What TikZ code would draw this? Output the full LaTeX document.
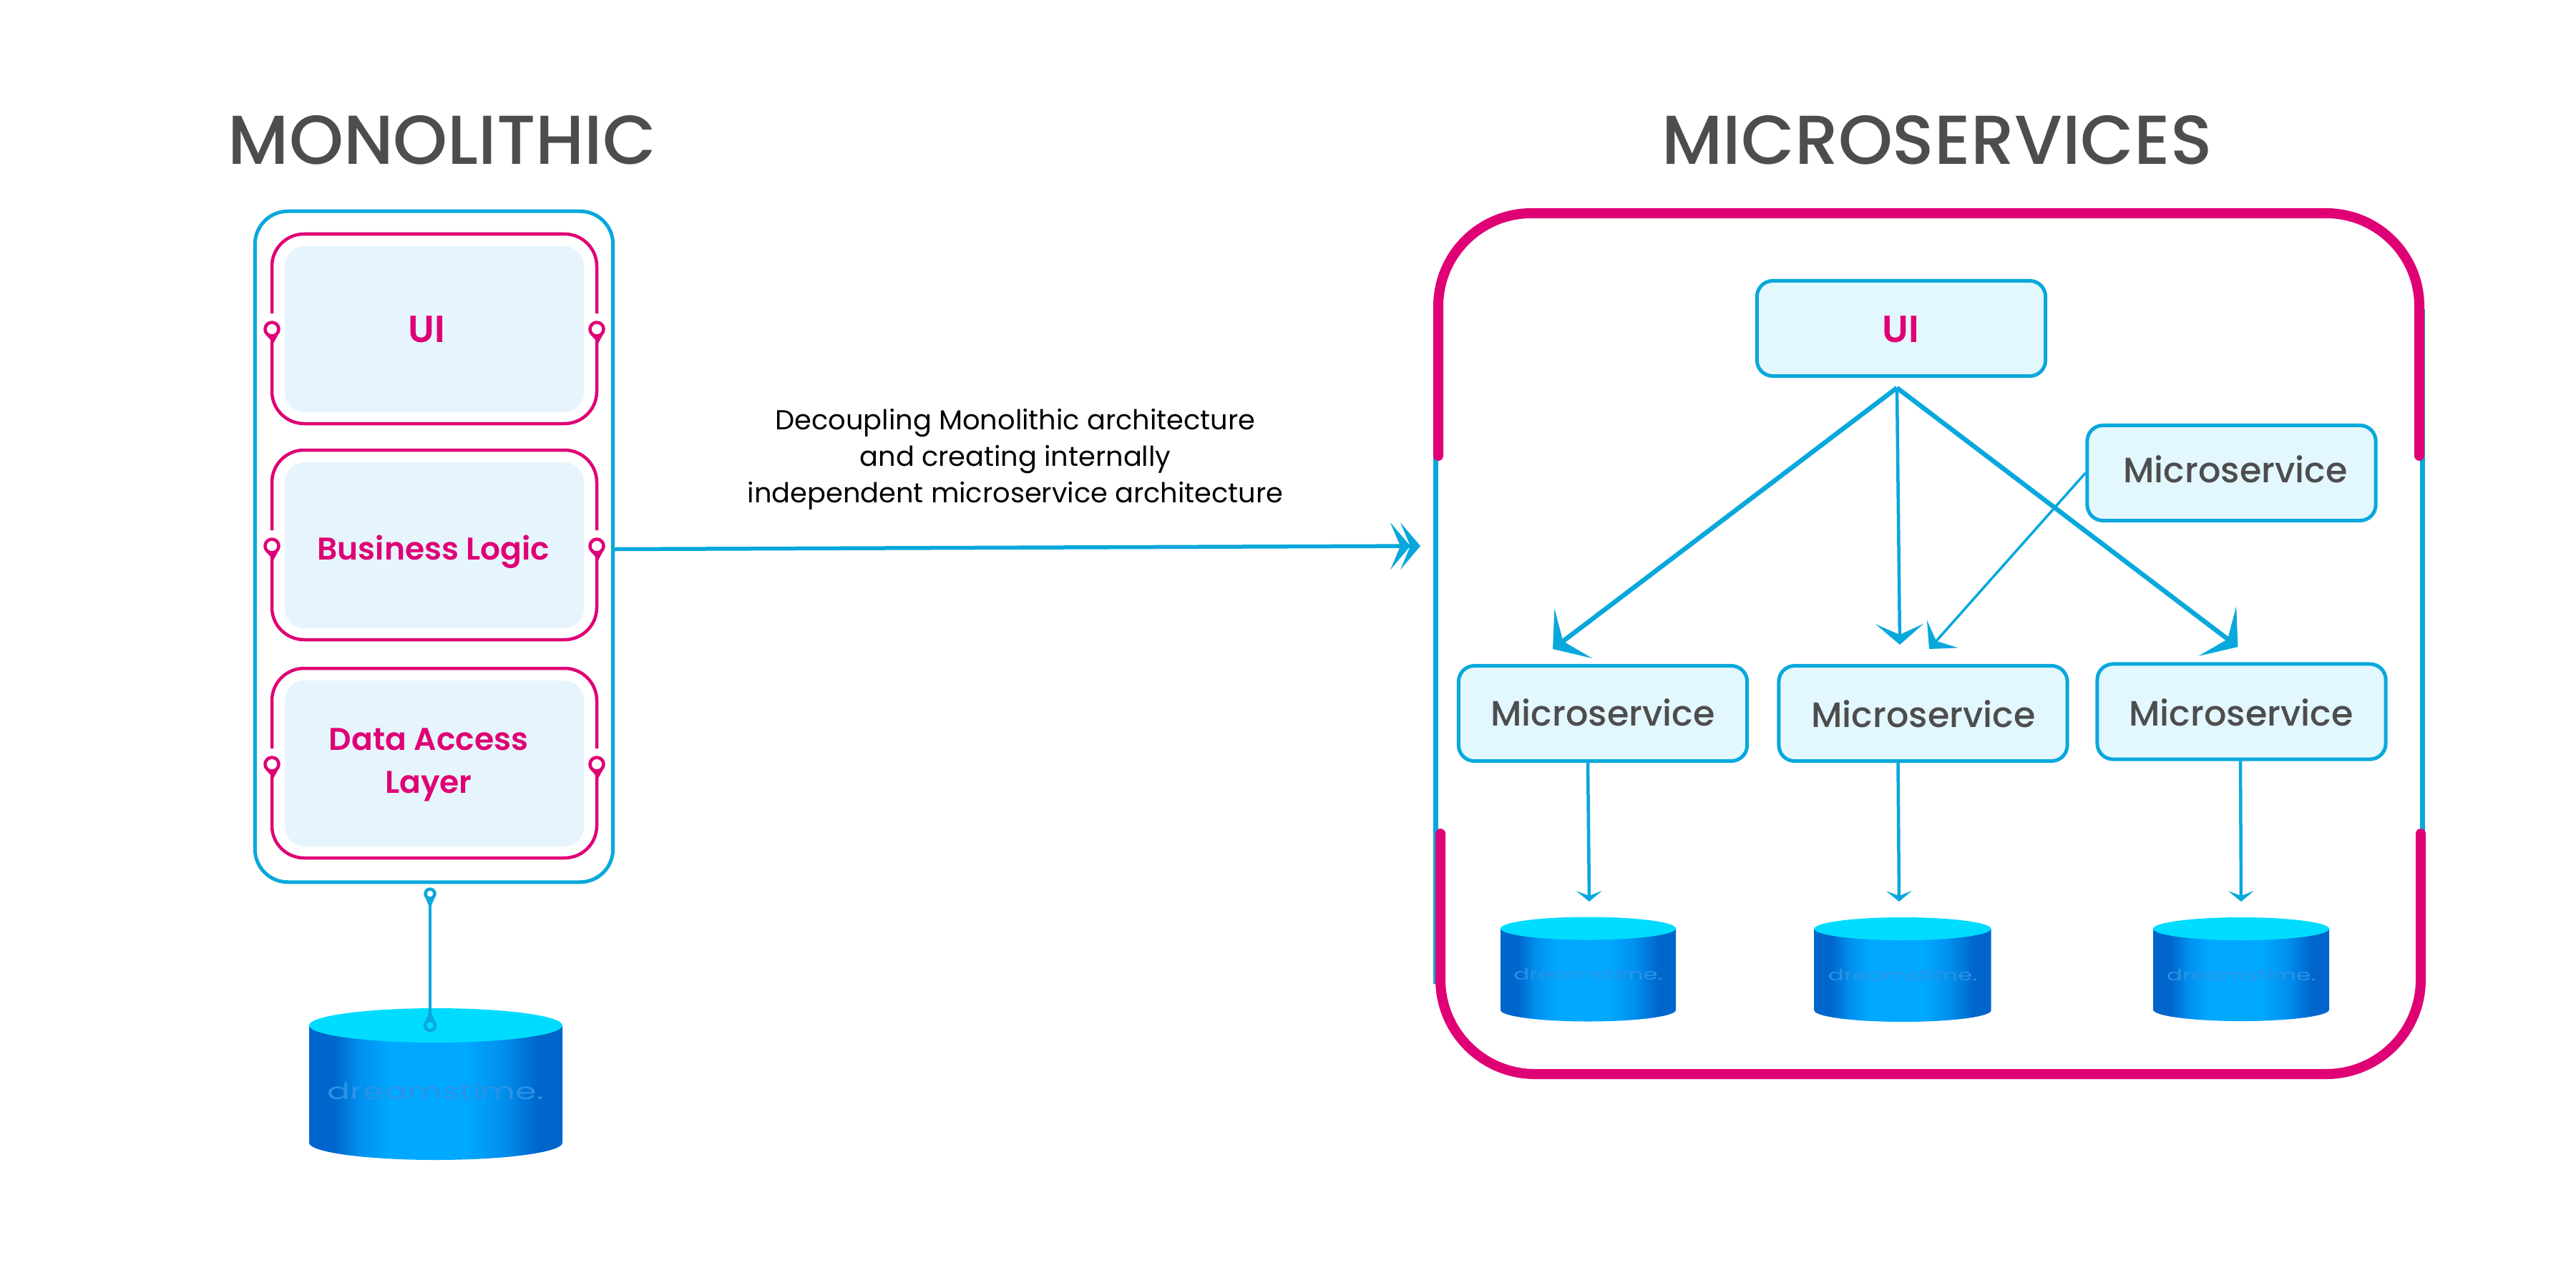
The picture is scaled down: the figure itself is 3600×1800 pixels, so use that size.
\documentclass[tikz,border=0pt]{standalone}
\usepackage{fontspec}
\setmainfont{Poppins}
\newfontfamily\headfont{Poppins Medium}
\newfontfamily\layerfont{Poppins SemiBold}
\newfontfamily\markfont[FakeStretch=1.5]{Poppins}
\usetikzlibrary{positioning,arrows.meta,shadings}
\definecolor{framepink}{HTML}{DF0075}
\definecolor{lineblue}{HTML}{09A8DC}
\definecolor{layerfill}{HTML}{E6F4FD}
\definecolor{servicefill}{HTML}{E3F7FF}
\definecolor{titlegray}{HTML}{4D4D4D}
\definecolor{dbedge}{HTML}{0066CC}
\definecolor{dbmid}{HTML}{0090EE}
\definecolor{dbpeak}{HTML}{00A8FF}
\definecolor{dbtop}{HTML}{00DCFF}
\definecolor{dbmark}{HTML}{2A93E6}
\pgfdeclarehorizontalshading{dbside}{100bp}{color(0bp)=(dbedge); color(30bp)=(dbedge); color(35bp)=(dbmid); color(41bp)=(dbpeak); color(56bp)=(dbpeak); color(63bp)=(dbmid); color(70bp)=(dbedge); color(100bp)=(dbedge)}
\tikzset{
  hugetip/.tip={Stealth[length=.36cm,width=.87cm,inset=.18cm]},
  midtip/.tip={Stealth[length=.29cm,width=.67cm,inset=.15cm]},
  tinytip/.tip={Stealth[length=.15cm,width=.36cm,inset=.07cm]},
  title/.style={text=titlegray,font=\headfont\fontsize{27.5}{30}\selectfont,inner sep=0pt},
  layerbox/.style={fill=layerfill,rounded corners=.28cm,minimum width=4.18cm,minimum height=2.32cm,inner sep=0pt},
  layertext/.style={text=framepink,font=\layerfont\fontsize{12.5}{17}\selectfont,align=center,inner sep=0pt},
  layerline/.style={draw=framepink,line width=.045cm,rounded corners=.45cm},
  layerring/.style={circle,draw=framepink,line width=.045cm,minimum size=.19cm,inner sep=0pt},
  dbring/.style={circle,draw=lineblue,line width=.045cm,minimum size=.13cm,inner sep=0pt},
  service/.style={draw=lineblue,fill=servicefill,line width=.05cm,rounded corners=.22cm,minimum width=4.03cm,minimum height=1.33cm,inner sep=0pt},
  servicetext/.style={text=titlegray,font=\headfont\fontsize{14}{18}\selectfont}
}
\begin{document}
\begin{tikzpicture}[x=.01cm,y=-.01cm]
\useasboundingbox (0,0) rectangle (3600,1800);
\node[title] (monotitle) at (618,196) {MONOLITHIC};
\node[title] (microtitle) at (2707,196) {MICROSERVICES};
\node[draw=lineblue,line width=.05cm,rounded corners=.46cm,minimum width=5cm,minimum height=9.37cm,inner sep=0pt] (monolith) at (606.5,764) {};
\foreach \name/\cy/\ringy in {uilayer/460/460,logiclayer/762/763,datalayer/1067/1068}{
  \node[layerbox] (\name) at (607,\cy) {};
  \node[layerring] (\name left) at (380,\ringy) {};
  \node[layerring] (\name right) at (834,\ringy) {};
  \fill[framepink] (\name left.south west) -- (\name left.south east) -- ++(-6,11) -- cycle;
  \fill[framepink] (\name right.south west) -- (\name right.south east) -- ++(-6,11) -- cycle;
  \draw[layerline] (380,\ringy-22) -- (380,\cy-133) -- (834,\cy-133) -- (834,\ringy-22);
  \draw[layerline] (\name left.south) -- (380,\cy+132) -- (834,\cy+132) -- (\name right.south);
}
\node[layertext,font=\layerfont\fontsize{15}{18}\selectfont] (uilabel) at (596,460) {UI};
\node[layertext] (logiclabel) at (606,771) {Business Logic};
\node[layertext] (datalabel) at (599,1069) {Data Access\\Layer};
\foreach \name/\cx/\cy/\rx/\ry/\h/\w/\my in {dbmain/609/1433/177/24/164/9/92,dbone/2219.5/1297.5/122.5/16/114/6.2/64,dbtwo/2659/1298/123.5/16/114/6.2/64,dbthree/3132/1298/123/16/113/6.2/64}{
  \shade[shading=dbside] (\cx-\rx,\cy) -- (\cx-\rx,\cy+\h) arc [start angle=180,end angle=0,x radius=\rx,y radius=\ry] -- (\cx+\rx,\cy) -- cycle;
  \fill[dbtop] (\cx,\cy) ellipse [x radius=\rx,y radius=\ry];
  \node[text=dbmark,font=\markfont\fontsize{\w}{\w}\selectfont,inner sep=0pt] (\name mark) at (\cx,\cy+\my) {dreamstime.};
}
\node[dbring] (dblinktop) at (601,1249) {};
\node[dbring,minimum size=.14cm] (dblinkend) at (601,1433) {};
\fill[lineblue] (dblinktop.south west) -- (dblinktop.south east) -- (601,1270) -- cycle;
\fill[lineblue] (dblinkend.north west) -- (dblinkend.north east) -- (601,1412) -- cycle;
\draw[lineblue,line width=.04cm] (dblinktop) -- (dblinkend);
\draw[lineblue,line width=.065cm] (2006.7,600) -- (2006.7,1375);
\draw[lineblue,line width=.065cm] (3385.5,432) -- (3385.5,1375);
\draw[framepink,line width=.14cm,line cap=round,rounded corners=1.3cm] (2010,637) -- (2010,298) -- (3381,298) -- (3381,637);
\draw[framepink,line width=.14cm,line cap=round,rounded corners=1.32cm] (2013,1165) -- (2013,1501) -- (3383,1501) -- (3383,1165);
\node[service] (uiservice) at (2657,459) {};
\node[layertext,font=\layerfont\fontsize{15}{18}\selectfont] (uiservicelabel) at (2656,460) {UI};
\node[service] (topservice) at (3118.5,661) {};
\node[service] (serviceone) at (2240,997) {};
\node[service] (servicetwo) at (2687.5,997) {};
\node[service] (servicethree) at (3132.5,994.5) {};
\node[servicetext] at (3124,656) {Microservice};
\node[servicetext] at (2240,996) {Microservice};
\node[servicetext] at (2688,998) {Microservice};
\node[servicetext] at (3132,996) {Microservice};
\node[text=black,font=\fontsize{10.9}{14.4}\selectfont,align=center,inner sep=0pt] (decoupling) at (1419,642) {Decoupling Monolithic architecture\\and creating internally\\independent microservice architecture};
\coordinate (fork) at (2651,542);
\coordinate (tipone) at (2170,907);
\coordinate (tiptwo) at (2655,901);
\coordinate (tipthree) at (3127.5,904);
\coordinate (tipcross) at (2696,907);
\coordinate (frameentry) at (1985,763);
\draw[-{hugetip},lineblue,line width=.065cm] (fork) -- (tipone);
\draw[-{midtip},lineblue,line width=.045cm] (fork) -- (tiptwo);
\draw[-{hugetip},lineblue,line width=.065cm] (fork) -- (tipthree);
\draw[-{Stealth[length=.28cm,width=.58cm,inset=.13cm]},lineblue,line width=.035cm] (topservice.west) -- (tipcross);
\draw[-{Stealth[length=.28cm,width=.66cm,inset=.14cm,sep=-.14cm]Stealth[length=.28cm,width=.66cm,inset=.14cm]},lineblue,line width=.055cm] ([yshift=-.035cm]monolith.east) -- (frameentry);
\coordinate (dbonetip) at (2221,1260);
\coordinate (dbtwotip) at (2654,1260);
\coordinate (dbthreetip) at (3132,1260);
\draw[-{tinytip},lineblue,line width=.045cm] (2219,1065) -- (dbonetip);
\draw[-{tinytip},lineblue,line width=.045cm] (2652.5,1065) -- (dbtwotip);
\draw[-{tinytip},lineblue,line width=.045cm] (3131,1063) -- (dbthreetip);
\end{tikzpicture}
\end{document}
